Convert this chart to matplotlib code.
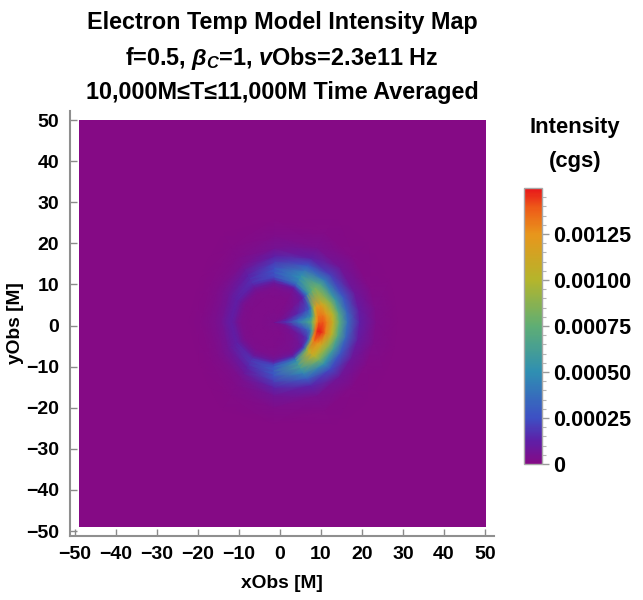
import numpy as np
import matplotlib
matplotlib.use('Agg')
import matplotlib.pyplot as plt
from matplotlib.colors import LinearSegmentedColormap

plt.rcParams['font.family'] = ['Liberation Sans', 'DejaVu Sans']
plt.rcParams['font.weight'] = 'bold'
plt.rcParams['mathtext.fontset'] = 'custom'
plt.rcParams['mathtext.bf'] = 'Liberation Sans:bold'
plt.rcParams['mathtext.bfit'] = 'Liberation Sans:italic:bold'
plt.rcParams['mathtext.it'] = 'Liberation Sans:italic:bold'
plt.rcParams['mathtext.rm'] = 'Liberation Sans:bold'

# ring centre
center_x = -1.5
center_y = 0.9

radii = [0, 3, 6, 8, 9, 9.6, 10.4, 11, 12, 13, 14.5, 16, 18, 21, 25, 30]
angles = [-180, -150, -120, -90, -60, -40, -25, -12, 0, 8, 20, 40, 60, 90, 120, 150, 180]

# intensity in units of 1e-3, one list per angle, same order as radii
i_m180 = [.03, .02, .02, .03, .06, .09, .11, .10, .08, .05, .03, .02, .01, 0, 0, 0]
i_m150 = [.03, .02, .02, .03, .06, .09, .12, .11, .09, .06, .04, .02, .01, 0, 0, 0]
i_m120 = [.03, .02, .02, .03, .06, .09, .16, .18, .16, .12, .08, .04, .02, .01, 0, 0]
i_m90 = [.03, .02, .02, .03, .06, .10, .22, .27, .29, .27, .20, .13, .06, .02, 0, 0]
i_m60 = [.03, .02, .03, .04, .07, .14, .36, .52, .62, .60, .46, .30, .14, .04, .01, 0]
i_m40 = [.03, .03, .04, .07, .10, .24, .80, 1.02, 1.10, 1.02, .80, .52, .24, .07, .01, 0]
i_m25 = [.03, .04, .08, .14, .20, .46, 1.22, 1.34, 1.25, 1.10, .88, .60, .28, .08, .01, 0]
i_m12 = [.04, .08, .20, .32, .42, .68, 1.36, 1.49, 1.46, 1.30, 1.02, .70, .34, .10, .02, 0]
i_0 = [.05, .18, .42, .60, .70, .92, 1.24, 1.38, 1.40, 1.30, 1.06, .74, .38, .12, .02, 0]
i_8 = [.04, .13, .30, .44, .52, .72, 1.18, 1.32, 1.32, 1.22, 1.00, .68, .34, .10, .02, 0]
i_20 = [.03, .06, .14, .22, .30, .46, .98, 1.20, 1.18, 1.06, .85, .56, .28, .08, .01, 0]
i_40 = [.03, .03, .05, .08, .12, .20, .42, .60, .74, .80, .66, .42, .20, .06, .01, 0]
i_60 = [.03, .02, .02, .04, .06, .11, .29, .40, .48, .50, .40, .26, .12, .04, .01, 0]
i_90 = [.03, .02, .02, .03, .06, .09, .18, .24, .26, .25, .19, .12, .05, .02, 0, 0]
i_120 = [.03, .02, .02, .03, .06, .09, .14, .16, .15, .12, .08, .04, .02, .01, 0, 0]
i_150 = [.03, .02, .02, .03, .06, .09, .12, .11, .09, .06, .04, .02, .01, 0, 0, 0]
i_180 = i_m180

intensity = [i_m180, i_m150, i_m120, i_m90, i_m60, i_m40, i_m25, i_m12, i_0,
             i_8, i_20, i_40, i_60, i_90, i_120, i_150, i_180]

xy_ticks = list(range(-50, 51, 10))
cbar_ticks = [0, 0.00025, 0.0005, 0.00075, 0.001, 0.00125]
cbar_labels = ['0', '0.00025', '0.00050', '0.00075', '0.00100', '0.00125']
cbar_minor = [0.00005 * i for i in range(0, 30)]
vmax = 0.0015

rainbow = LinearSegmentedColormap.from_list('rainbow_like', [
    (0, '#850a85'), (0.08, '#5f1ea6'), (1 / 6, '#3d50c4'), (1 / 3, '#2f8fb2'),
    (0.5, '#5fae74'), (2 / 3, '#b4b52c'), (5 / 6, '#e8961c'), (0.93, '#ee5a18'), (1, '#e8141a')])

W, H = 643, 600
fig = plt.figure(figsize=(W / 100, H / 100), dpi=100)
ax = fig.add_axes([70 / W, (H - 536) / H, 424 / W, 425 / H])

ax.imshow([[0, 0], [0, 0]], extent=[-49, 50.2, -49, 50], cmap=rainbow, vmin=0, vmax=vmax,
          aspect='auto', interpolation='nearest')

T, R = np.meshgrid(np.radians(angles), radii, indexing='ij')
X = center_x + R * np.cos(T)
Y = center_y + R * np.sin(T)
mesh = ax.pcolormesh(X, Y, np.array(intensity) * 1e-3, shading='gouraud', cmap=rainbow,
                     vmin=0, vmax=vmax)

ax.set_xlim(-51.2, 52.2)
ax.set_ylim(-51.2, 52.2)
ax.set_xticks(xy_ticks)
ax.set_yticks(xy_ticks)
ax.tick_params(direction='in', length=5, width=1, color='#8a8a8a', labelsize=14, pad=7)
ax.tick_params(axis='y', pad=8)
for s in ['top', 'right']:
    ax.spines[s].set_visible(False)
for s in ['left', 'bottom']:
    ax.spines[s].set_color('#8f8f8f')
    ax.spines[s].set_linewidth(1.5)

fig.text(282 / W, 1 - 584 / H, 'xObs [M]', ha='center', va='center', fontsize=13.8)
fig.text(15 / W, 1 - 323 / H, 'yObs [M]', ha='center', va='center', rotation=90, fontsize=13.8)

fig.text(282 / W, 1 - 22 / H, 'Electron Temp Model Intensity Map', ha='center', va='center', fontsize=16.8)
fig.text(282 / W, 1 - 58 / H, r'f=0.5, $\mathit{\beta_C}$=1, $\mathit{v}$Obs=2.3e11 Hz',
         ha='center', va='center', fontsize=16.8)
fig.text(282 / W, 1 - 92 / H, '10,000M≤T≤11,000M Time Averaged', ha='center', va='center', fontsize=16.8)

cax = fig.add_axes([524 / W, (H - 464) / H, 18 / W, 276 / H])
cbar = fig.colorbar(mesh, cax=cax, ticks=cbar_ticks)
cbar.set_ticklabels(cbar_labels)
cbar.ax.yaxis.set_ticks(cbar_minor, minor=True)
cbar.ax.tick_params(which='major', length=5, width=1, color='#9a9a9a', labelsize=15.5, pad=3)
cbar.ax.tick_params(which='minor', length=3, width=0.8, color='#b5b5b5')
cbar.outline.set_edgecolor('#a8a8a8')
cbar.outline.set_linewidth(1)

fig.text(575 / W, 1 - 127 / H, 'Intensity', ha='center', va='center', fontsize=15.8)
fig.text(575 / W, 1 - 161 / H, '(cgs)', ha='center', va='center', fontsize=15.8)

fig.savefig('out.png', dpi=100)
